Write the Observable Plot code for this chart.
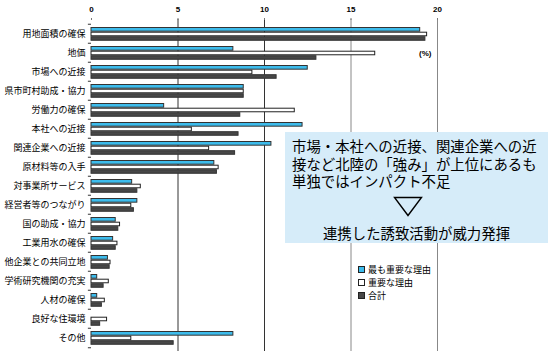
<!DOCTYPE html>
<html><head><meta charset="utf-8">
<script src="https://cdn.jsdelivr.net/npm/d3@7"></script>
<script src="https://cdn.jsdelivr.net/npm/@observablehq/plot@0.6"></script>
<style>
body{margin:0;background:#fff;}
#wrap{position:relative;width:550px;height:358px;font-family:"Noto Sans CJK JP",sans-serif;overflow:hidden;}
#note{position:absolute;left:285px;top:132px;width:263px;height:111px;background:#d6ecf9;box-sizing:border-box;}
#note .t{position:absolute;left:7px;font-size:14.4px;line-height:17px;height:17px;color:#000;white-space:nowrap;}
#note .b{position:absolute;left:0;width:263px;top:92px;text-align:center;font-size:14.4px;line-height:17px;height:17px;white-space:nowrap;}
#note svg{position:absolute;left:108px;top:64px;}
#legend{position:absolute;left:358px;top:263px;font-size:9px;line-height:13px;color:#000;}
#legend div{display:flex;align-items:center;height:13px;}
#legend span.sw{display:inline-block;width:5px;height:5px;border:1px solid #222;margin-right:3px;}
</style></head><body><div id="wrap"></div>
<script>
const categories = ["用地面積の確保","地価","市場への近接","県市町村助成・協力","労働力の確保","本社への近接","関連企業への近接","原材料等の入手","対事業所サービス","経営者等のつながり","国の助成・協力","工業用水の確保","他企業との共同立地","学術研究機関の充実","人材の確保","良好な住環境","その他"];
const mostImportant = [19.0, 8.2, 12.5, 8.8, 4.2, 12.2, 10.4, 7.1, 2.35, 2.65, 1.4, 1.25, 0.95, 0.33, 0.33, 0, 8.2];
const important     = [19.4, 16.4, 9.3, 8.8, 11.75, 5.8, 6.8, 7.35, 2.85, 2.3, 1.65, 1.5, 1.1, 1.0, 0.77, 0.9, 2.3];
const total         = [19.3, 13.0, 10.7, 8.8, 8.6, 8.5, 8.3, 7.25, 2.65, 2.45, 1.55, 1.4, 1.05, 0.7, 0.6, 0.5, 4.75];
const seriesNames = ["最も重要な理由","重要な理由","合計"];
const seriesColors = ["#3dbcec","#ffffff","#474747"];
const xTicks = [0,5,10,15,20];
const unitLabel = "(%)";
const noteLines = ["市場・本社への近接、関連企業への近","接など北陸の「強み」が上位にあるも","単独ではインパクト不足"];
const noteConclusion = "連携した誘致活動が威力発揮";

const rows = (vals) => categories.map((c,i)=>({category:c, value:vals[i]})).filter(d=>d.value>0);
const band = (351-19)/categories.length;

const chart = Plot.plot({
  width: 550, height: 358,
  marginLeft: 91, marginRight: 113, marginTop: 19, marginBottom: 7,
  style: {fontFamily: '"Noto Sans CJK JP", sans-serif', fontSize: "9px", color: "#000", background: "#fff"},
  x: {domain: [0,20], ticks: xTicks},
  y: {domain: categories, padding: 0},
  marks: [
    Plot.ruleX([5,10], {stroke: "#333", strokeWidth: 1}),
    Plot.ruleX([15,20], {stroke: "#888", strokeWidth: 1}),
    Plot.barX(rows(mostImportant), {x: "value", y: "category", fill: seriesColors[0], stroke: "#333", strokeWidth: 1, insetTop: 3.5, insetBottom: band-7.7}),
    Plot.barX(rows(important), {x: "value", y: "category", fill: seriesColors[1], stroke: "#222", strokeWidth: 1, insetTop: 8.2, insetBottom: band-12.3}),
    Plot.barX(rows(total), {x: "value", y: "category", fill: seriesColors[2], stroke: "#333", strokeWidth: 1, insetTop: 12.7, insetBottom: band-16.8}),
    Plot.ruleY(categories, {y: d=>d, x1: -0.18, x2: 0, dy: -band/2, stroke: "#333"}),
    Plot.ruleY(categories.slice(-1), {y: d=>d, x1: -0.18, x2: 0, dy: band/2, stroke: "#333"}),
    Plot.axisX({anchor: "top", ticks: xTicks, tickSize: 2, tickPadding: 6, line: true, stroke: "#777", fontSize: 8, fontWeight: "bold", fontFamily: '"Liberation Sans", Arial, sans-serif', label: null}),
    Plot.axisY({anchor: "left", tickSize: 0, tickPadding: 6, line: true, stroke: "#333", fontSize: 9, label: null}),
    Plot.text([unitLabel], {text: d=>d, frameAnchor: "top-right", dx: -6, dy: 31, fontSize: 8, fontWeight: "bold", fontFamily: '"Liberation Sans", Arial, sans-serif'})
  ]
});
chart.style.position = "absolute";
chart.style.left = "0px"; chart.style.top = "0px";
const wrap = document.getElementById("wrap");
wrap.appendChild(chart);

const note = document.createElement("div");
note.id = "note";
note.innerHTML = noteLines.map((l,i)=>`<div class="t" style="top:${5+i*17.5}px">${l}</div>`).join("") +
  '<svg width="30" height="22"><path d="M1.5,1.5 L28.5,1.5 L15,19.5 Z" fill="none" stroke="#000" stroke-width="1.4"/></svg>' +
  `<div class="b">${noteConclusion}</div>`;
wrap.appendChild(note);

const legend = document.createElement("div");
legend.id = "legend";
legend.innerHTML = seriesNames.map((n,i)=>`<div><span class="sw" style="background:${seriesColors[i]}"></span>${n}</div>`).join("");
wrap.appendChild(legend);
</script>
</body></html>
